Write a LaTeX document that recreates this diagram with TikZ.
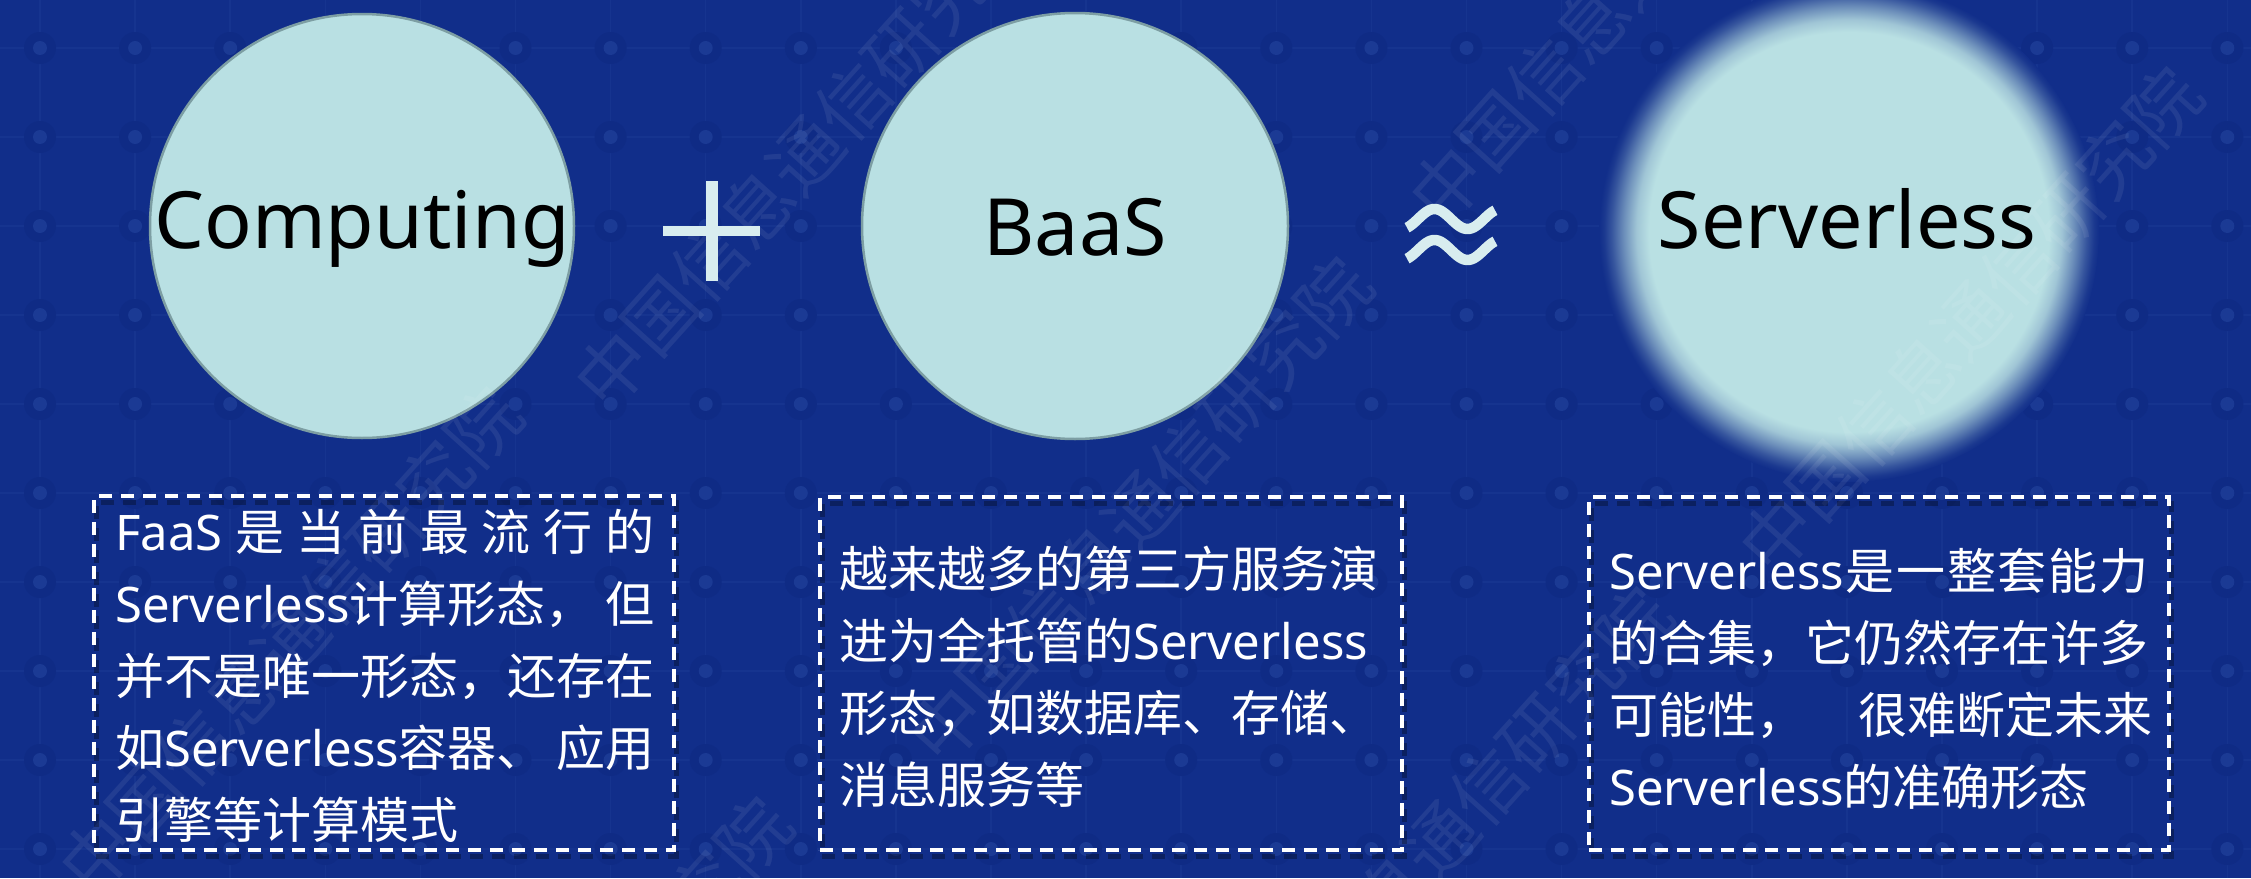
\documentclass[tikz,border=0pt]{standalone}
\usepackage{fontspec}
\setmainfont{Noto Sans}
\newfontfamily\cjk{Noto Sans CJK SC}
\newfontfamily\lat{Noto Sans}
\definecolor{bg}{RGB}{17,46,138}
\definecolor{gridc}{RGB}{22,52,143}
\definecolor{dotc}{RGB}{27,58,148}
\definecolor{halo}{RGB}{15,43,133}
\definecolor{cfill}{RGB}{185,224,227}
\definecolor{cedge}{RGB}{125,158,163}
\definecolor{sym}{RGB}{216,237,239}
\colorlet{gA}{cfill!85!bg}
\colorlet{gB}{cfill!55!bg}
\colorlet{gC}{cfill!22!bg}
\colorlet{gD}{cfill!6!bg}
\pgfdeclareradialshading{glow}{\pgfpoint{0bp}{0bp}}{color(0bp)=(cfill); color(20bp)=(cfill); color(21.25bp)=(gA); color(22.5bp)=(gB); color(23.75bp)=(gC); color(24.5bp)=(gD); color(25bp)=(bg); color(50bp)=(bg)}
\begin{document}
\begin{tikzpicture}[x=1pt,y=-1pt,
  circ/.style={circle, fill=cfill, draw=cedge, line width=2.5pt, minimum size=#1, inner sep=0pt},
  ctext/.style={anchor=base, inner sep=0pt, text=black, font=\lat\fontsize{79pt}{90pt}\selectfont},
  dbox/.style={draw=white, line width=4pt, dash pattern=on 13pt off 9pt, inner sep=0pt, rectangle},
  dboxs/.style={draw=black, draw opacity=0.3, line width=5pt, dash pattern=on 13pt off 9pt, inner sep=0pt, rectangle},
  txt/.style={anchor=base west, inner sep=0pt, text=white, font=\cjk\fontsize{49pt}{72pt}\selectfont},
  wm/.style={inner sep=0pt, text=white, text opacity=0.075, font=\cjk\fontsize{72pt}{80pt}\selectfont, rotate=48},
  symline/.style={draw=sym, line width=10.5pt}
]
\useasboundingbox (0,0) rectangle (2251,878);
\fill[bg] (0,0) rectangle (2251,878);
% grid
\foreach \i in {0,...,23} {
  \draw[gridc, line width=1.5pt] ({40+95.1*\i},0) -- ({40+95.1*\i},878);
}
\foreach \j in {0,...,9} {
  \draw[gridc, line width=1.5pt] (0,{48+89*\j}) -- (2251,{48+89*\j});
}
\foreach \i in {0,...,23} {
  \foreach \j in {0,...,9} {
    \fill[halo] ({40+95.1*\i},{48+89*\j}) circle[radius=16pt];
    \fill[dotc] ({40+95.1*\i},{48+89*\j}) circle[radius=7pt];
  }
}
% circles
\node[circ=424pt] (comp) at (362,226) {};
\node[circ=426pt] (baas) at (1075,226) {};
\shade[shading=glow] (1849,232) circle[radius=250pt];
\coordinate (srv) at (1849,232);
% watermarks
\node[wm] (wmA) at (805,155) {中国信息通信研究院};
\node[wm] (wmB) at (1140,510) {中国信息通信研究院};
\node[wm] (wmC) at (1640,-30) {中国信息通信研究院};
\node[wm] (wmD) at (1970,320) {中国信息通信研究院};
\node[wm] (wmE) at (290,640) {中国信息通信研究院};
\node[wm] (wmF) at (560,1050) {中国信息通信研究院};
\node[wm] (wmG) at (1440,840) {中国信息通信研究院};
% circle texts
\node[ctext] (tcomp) at (362,248) {Computing};
\node[ctext] (tbaas) at (1075,255) {BaaS};
\node[ctext] (tsrv) at (1847,248) {Serverless};
% plus
\fill[sym] (663,226) rectangle (760,236);
\fill[sym] (706,181) rectangle (718,281);
% approx
\draw[symline] plot[domain=-60:420, samples=60, variable=\t] ({1407+(\t+60)/480*88}, {219-10*sin(\t)});
\draw[symline] plot[domain=-60:420, samples=60, variable=\t] ({1407+(\t+60)/480*88}, {250-10*sin(\t)});
% boxes
\node[dboxs, minimum width=580pt, minimum height=354pt] (box1s) at (386,679) {};
\node[dboxs, minimum width=582pt, minimum height=353pt] (box2s) at (1113,679.5) {};
\node[dboxs, minimum width=580pt, minimum height=353pt] (box3s) at (1881,679.5) {};
\node[dbox, minimum width=580pt, minimum height=354pt] (box1) at (384,673) {};
\node[dbox, minimum width=582pt, minimum height=353pt] (box2) at (1111,673.5) {};
\node[dbox, minimum width=580pt, minimum height=353pt] (box3) at (1879,673.5) {};
% box 1 text
\node[txt] (a1) at (115,550) {\hbox to 539pt{{\lat FaaS}\hfill 是\hfill 当\hfill 前\hfill 最\hfill 流\hfill 行\hfill 的}};
\node[txt] (a2) at (115,622) {\hbox to 539pt{{\lat Serverless}计算形态，\hfill 但}};
\node[txt] (a3) at (115,694) {并不是唯一形态，还存在};
\node[txt] (a4) at (115,766) {\hbox to 539pt{如{\lat Serverless}容器、\hfill 应用}};
\node[txt] (a5) at (115,838) {引擎等计算模式};
% box 2 text
\node[txt] (b1) at (839,587) {越来越多的第三方服务演};
\node[txt] (b2) at (839,659) {进为全托管的{\lat Serverless}};
\node[txt] (b3) at (839,731) {形态，如数据库、存储、};
\node[txt] (b4) at (839,803) {消息服务等};
% box 3 text
\node[txt] (c1) at (1609,589) {\hbox to 539pt{{\lat Serverless}\hfill 是\hfill 一\hfill 整\hfill 套\hfill 能\hfill 力}};
\node[txt] (c2) at (1609,661) {的合集，它仍然存在许多};
\node[txt] (c3) at (1609,733) {\hbox to 543pt{可能性，\hfill 很难断定未来}};
\node[txt] (c4) at (1609,805) {{\lat Serverless}的准确形态};
\end{tikzpicture}
\end{document}
